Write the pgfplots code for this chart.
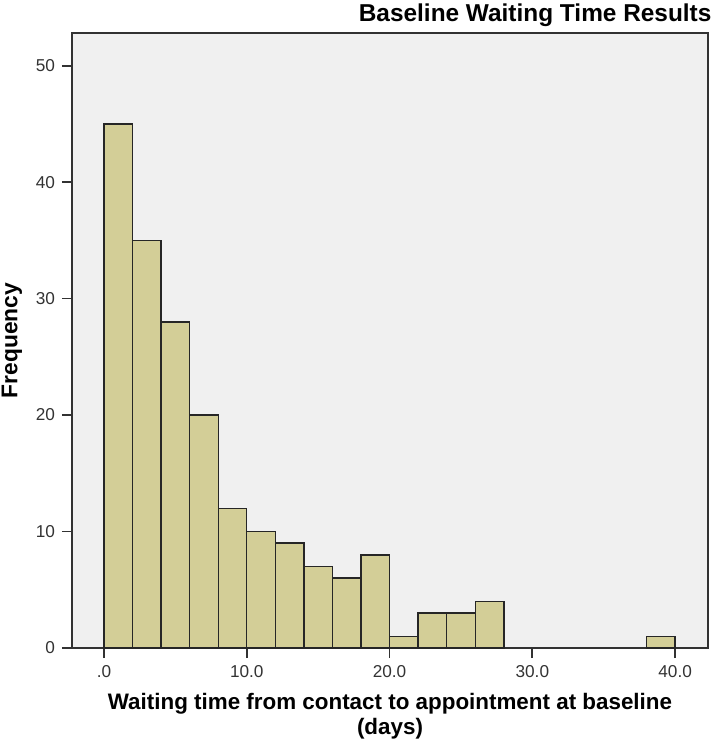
\documentclass[border=0pt]{standalone}
\usepackage{pgfplots}
\pgfplotsset{compat=1.18}
\usepackage{fontspec}
\setmainfont{Liberation Sans}

\definecolor{barfill}{RGB}{211,206,151}
\definecolor{plotbg}{RGB}{240,240,240}
\definecolor{frame}{RGB}{50,50,50}

\begin{document}
\begin{tikzpicture}
\begin{axis}[
    scale only axis,
    width=318pt, height=307.5pt,
    xmin=-2.24, xmax=42.3,
    ymin=0, ymax=52.8,
    axis background/.style={fill=plotbg},
    axis line style={frame, line width=0.9pt},
    xtick={0,10,20,30,40},
    xticklabels={.0,10.0,20.0,30.0,40.0},
    ytick={0,10,20,30,40,50},
    xtick pos=left, ytick pos=left,
    tick align=outside,
    major tick length=5pt,
    tick style={frame, line width=0.9pt},
    /pgf/number format/assume math mode=true,
    ticklabel style={font=\fontsize{8.6}{9}\selectfont, text=black!80},
    xlabel={\textbf{Waiting time from contact to appointment at baseline}\\\textbf{(days)}},
    xlabel style={align=center, font=\fontsize{11.2}{12.5}\selectfont, yshift=-1pt},
    ylabel={\textbf{Frequency}},
    ylabel style={font=\fontsize{11.4}{12}\selectfont},
    clip=false,
]
\addplot[ybar interval, fill=barfill, draw=black!85, line width=0.7pt] coordinates {
    (0,45) (2,35) (4,28) (6,20) (8,12) (10,10) (12,9) (14,7)
    (16,6) (18,8) (20,1) (22,3) (24,3) (26,4) (28,4)
};
\addplot[ybar interval, fill=barfill, draw=black!85, line width=0.7pt] coordinates {
    (38,1) (40,1)
};
\node[anchor=south east, font=\bfseries\fontsize{12.2}{13}\selectfont, inner sep=0pt]
    at (rel axis cs:1.006,1.0) [yshift=3pt] {Baseline Waiting Time Results};
\path (rel axis cs:-0.1132,-0.1577) coordinate (ll)
      (rel axis cs:1.0094,1.0537) coordinate (ur);
\end{axis}
\pgfresetboundingbox
\path[use as bounding box] (ll) rectangle (ur);
\end{tikzpicture}
\end{document}
